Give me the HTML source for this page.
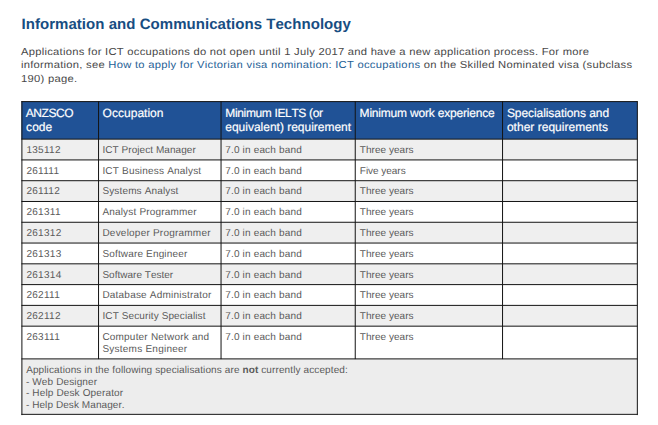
<!DOCTYPE html>
<html><head><meta charset="utf-8"><title>ICT</title>
<style>
html,body{margin:0;padding:0;background:#fff;}
body{width:658px;height:425px;overflow:hidden;position:relative;font-family:"Liberation Sans",sans-serif;}
i,b.r,span.t{position:absolute;left:0;top:0;display:block;}
i{background:#141414;}
span.t{white-space:nowrap;font-kerning:none;text-rendering:geometricPrecision;transform-origin:0 0;line-height:1;}
</style></head><body>

<b class="r" style="transform:translate(21.39px,101.55px);width:616.37px;height:37.55px;background:#205296"></b>
<b class="r" style="transform:translate(21.39px,139.10px);width:616.37px;height:20.78px;background:#efefef"></b>
<b class="r" style="transform:translate(21.39px,180.66px);width:616.37px;height:20.78px;background:#efefef"></b>
<b class="r" style="transform:translate(21.39px,222.22px);width:616.37px;height:20.78px;background:#efefef"></b>
<b class="r" style="transform:translate(21.39px,263.78px);width:616.37px;height:20.78px;background:#efefef"></b>
<b class="r" style="transform:translate(21.39px,305.34px);width:616.37px;height:20.78px;background:#efefef"></b>
<b class="r" style="transform:translate(21.39px,358.85px);width:616.37px;height:55.45px;background:#ededed"></b>
<i style="transform:translate(21.39px,101.09px);width:616.37px;height:0.92px"></i>
<i style="transform:translate(21.39px,138.64px);width:616.37px;height:0.92px"></i>
<i style="transform:translate(21.39px,159.42px);width:616.37px;height:0.92px"></i>
<i style="transform:translate(21.39px,180.20px);width:616.37px;height:0.92px"></i>
<i style="transform:translate(21.39px,200.98px);width:616.37px;height:0.92px"></i>
<i style="transform:translate(21.39px,221.76px);width:616.37px;height:0.92px"></i>
<i style="transform:translate(21.39px,242.54px);width:616.37px;height:0.92px"></i>
<i style="transform:translate(21.39px,263.32px);width:616.37px;height:0.92px"></i>
<i style="transform:translate(21.39px,284.10px);width:616.37px;height:0.92px"></i>
<i style="transform:translate(21.39px,304.88px);width:616.37px;height:0.92px"></i>
<i style="transform:translate(21.39px,325.66px);width:616.37px;height:0.92px"></i>
<i style="transform:translate(21.39px,358.39px);width:616.37px;height:0.92px"></i>
<i style="transform:translate(21.39px,413.84px);width:616.37px;height:0.92px"></i>
<i style="transform:translate(21.39px,101.09px);width:0.92px;height:313.67px"></i>
<i style="transform:translate(98.04px,101.09px);width:0.92px;height:258.22px"></i>
<i style="transform:translate(220.54px,101.09px);width:0.92px;height:258.22px"></i>
<i style="transform:translate(354.74px,101.09px);width:0.92px;height:258.22px"></i>
<i style="transform:translate(502.04px,101.09px);width:0.92px;height:258.22px"></i>
<i style="transform:translate(636.84px,101.09px);width:0.92px;height:313.67px"></i>
<span class="t" style="transform:translate(21.50px,17.00px);font-size:15px;letter-spacing:0.046px;color:#174d82;font-weight:bold;">Information and Communications Technology</span>
<span class="t" style="transform:translate(20.90px,48.00px) scaleX(1.1);font-size:10.2px;letter-spacing:0.240px;color:#484848;font-weight:normal;">Applications for ICT occupations do not open until 1 July 2017 and have a new application process. For more</span>
<span class="t" style="transform:translate(20.90px,61.00px) scaleX(1.1);font-size:10.2px;letter-spacing:0.247px;color:#484848;font-weight:normal;">information, see <span style='color:#256196'>How to apply for Victorian visa nomination: ICT occupations</span> on the Skilled Nominated visa (subclass</span>
<span class="t" style="transform:translate(20.90px,75.00px) scaleX(1.1);font-size:10.2px;letter-spacing:0.270px;color:#484848;font-weight:normal;">190) page.</span>
<span class="t" style="transform:translate(25.75px,107.00px);font-size:12px;letter-spacing:-0.428px;color:#ffffff;font-weight:normal;-webkit-text-stroke:0.18px #fff;">ANZSCO</span>
<span class="t" style="transform:translate(26.10px,121.00px);font-size:12px;letter-spacing:0.042px;color:#ffffff;font-weight:normal;-webkit-text-stroke:0.18px #fff;">code</span>
<span class="t" style="transform:translate(102.60px,107.00px);font-size:12px;letter-spacing:0.020px;color:#ffffff;font-weight:normal;-webkit-text-stroke:0.18px #fff;">Occupation</span>
<span class="t" style="transform:translate(225.30px,107.00px);font-size:12px;letter-spacing:-0.356px;color:#ffffff;font-weight:normal;-webkit-text-stroke:0.18px #fff;">Minimum IELTS (or</span>
<span class="t" style="transform:translate(225.30px,121.00px);font-size:12px;letter-spacing:-0.012px;color:#ffffff;font-weight:normal;-webkit-text-stroke:0.18px #fff;">equivalent) requirement</span>
<span class="t" style="transform:translate(359.60px,107.00px);font-size:12px;letter-spacing:-0.197px;color:#ffffff;font-weight:normal;-webkit-text-stroke:0.18px #fff;">Minimum work experience</span>
<span class="t" style="transform:translate(506.90px,107.00px);font-size:12px;letter-spacing:-0.069px;color:#ffffff;font-weight:normal;-webkit-text-stroke:0.18px #fff;">Specialisations and</span>
<span class="t" style="transform:translate(506.90px,121.00px);font-size:12px;letter-spacing:0.016px;color:#ffffff;font-weight:normal;-webkit-text-stroke:0.18px #fff;">other requirements</span>
<span class="t" style="transform:translate(26.40px,146.00px);font-size:10px;letter-spacing:0.300px;color:#5a5a5a;font-weight:normal;font-kerning:normal;">135112</span>
<span class="t" style="transform:translate(102.40px,146.00px);font-size:10px;letter-spacing:0.065px;color:#5a5a5a;font-weight:normal;">ICT Project Manager</span>
<span class="t" style="transform:translate(225.20px,146.00px);font-size:10px;letter-spacing:0.172px;color:#5a5a5a;font-weight:normal;">7.0 in each band</span>
<span class="t" style="transform:translate(359.80px,146.00px);font-size:10px;letter-spacing:0.040px;color:#5a5a5a;font-weight:normal;">Three years</span>
<span class="t" style="transform:translate(26.40px,167.00px);font-size:10px;letter-spacing:0.300px;color:#5a5a5a;font-weight:normal;font-kerning:normal;">261111</span>
<span class="t" style="transform:translate(102.40px,167.00px);font-size:10px;letter-spacing:0.193px;color:#5a5a5a;font-weight:normal;">ICT Business Analyst</span>
<span class="t" style="transform:translate(225.20px,167.00px);font-size:10px;letter-spacing:0.172px;color:#5a5a5a;font-weight:normal;">7.0 in each band</span>
<span class="t" style="transform:translate(359.80px,167.00px);font-size:10px;letter-spacing:-0.032px;color:#5a5a5a;font-weight:normal;">Five years</span>
<span class="t" style="transform:translate(26.40px,187.00px);font-size:10px;letter-spacing:0.300px;color:#5a5a5a;font-weight:normal;font-kerning:normal;">261112</span>
<span class="t" style="transform:translate(102.40px,187.00px);font-size:10px;letter-spacing:0.145px;color:#5a5a5a;font-weight:normal;">Systems Analyst</span>
<span class="t" style="transform:translate(225.20px,187.00px);font-size:10px;letter-spacing:0.172px;color:#5a5a5a;font-weight:normal;">7.0 in each band</span>
<span class="t" style="transform:translate(359.80px,187.00px);font-size:10px;letter-spacing:0.040px;color:#5a5a5a;font-weight:normal;">Three years</span>
<span class="t" style="transform:translate(26.40px,208.00px);font-size:10px;letter-spacing:0.300px;color:#5a5a5a;font-weight:normal;font-kerning:normal;">261311</span>
<span class="t" style="transform:translate(102.40px,208.00px);font-size:10px;letter-spacing:0.176px;color:#5a5a5a;font-weight:normal;">Analyst Programmer</span>
<span class="t" style="transform:translate(225.20px,208.00px);font-size:10px;letter-spacing:0.172px;color:#5a5a5a;font-weight:normal;">7.0 in each band</span>
<span class="t" style="transform:translate(359.80px,208.00px);font-size:10px;letter-spacing:0.040px;color:#5a5a5a;font-weight:normal;">Three years</span>
<span class="t" style="transform:translate(26.40px,229.00px);font-size:10px;letter-spacing:0.300px;color:#5a5a5a;font-weight:normal;font-kerning:normal;">261312</span>
<span class="t" style="transform:translate(102.40px,229.00px);font-size:10px;letter-spacing:0.221px;color:#5a5a5a;font-weight:normal;">Developer Programmer</span>
<span class="t" style="transform:translate(225.20px,229.00px);font-size:10px;letter-spacing:0.172px;color:#5a5a5a;font-weight:normal;">7.0 in each band</span>
<span class="t" style="transform:translate(359.80px,229.00px);font-size:10px;letter-spacing:0.040px;color:#5a5a5a;font-weight:normal;">Three years</span>
<span class="t" style="transform:translate(26.40px,250.00px);font-size:10px;letter-spacing:0.300px;color:#5a5a5a;font-weight:normal;font-kerning:normal;">261313</span>
<span class="t" style="transform:translate(102.40px,250.00px);font-size:10px;letter-spacing:0.160px;color:#5a5a5a;font-weight:normal;">Software Engineer</span>
<span class="t" style="transform:translate(225.20px,250.00px);font-size:10px;letter-spacing:0.172px;color:#5a5a5a;font-weight:normal;">7.0 in each band</span>
<span class="t" style="transform:translate(359.80px,250.00px);font-size:10px;letter-spacing:0.040px;color:#5a5a5a;font-weight:normal;">Three years</span>
<span class="t" style="transform:translate(26.40px,271.00px);font-size:10px;letter-spacing:0.300px;color:#5a5a5a;font-weight:normal;font-kerning:normal;">261314</span>
<span class="t" style="transform:translate(102.40px,271.00px);font-size:10px;letter-spacing:0.014px;color:#5a5a5a;font-weight:normal;">Software Tester</span>
<span class="t" style="transform:translate(225.20px,271.00px);font-size:10px;letter-spacing:0.172px;color:#5a5a5a;font-weight:normal;">7.0 in each band</span>
<span class="t" style="transform:translate(359.80px,271.00px);font-size:10px;letter-spacing:0.040px;color:#5a5a5a;font-weight:normal;">Three years</span>
<span class="t" style="transform:translate(26.40px,291.00px);font-size:10px;letter-spacing:0.300px;color:#5a5a5a;font-weight:normal;font-kerning:normal;">262111</span>
<span class="t" style="transform:translate(102.40px,291.00px);font-size:10px;letter-spacing:0.209px;color:#5a5a5a;font-weight:normal;">Database Administrator</span>
<span class="t" style="transform:translate(225.20px,291.00px);font-size:10px;letter-spacing:0.172px;color:#5a5a5a;font-weight:normal;">7.0 in each band</span>
<span class="t" style="transform:translate(359.80px,291.00px);font-size:10px;letter-spacing:0.040px;color:#5a5a5a;font-weight:normal;">Three years</span>
<span class="t" style="transform:translate(26.40px,312.00px);font-size:10px;letter-spacing:0.300px;color:#5a5a5a;font-weight:normal;font-kerning:normal;">262112</span>
<span class="t" style="transform:translate(102.40px,312.00px);font-size:10px;letter-spacing:0.113px;color:#5a5a5a;font-weight:normal;">ICT Security Specialist</span>
<span class="t" style="transform:translate(225.20px,312.00px);font-size:10px;letter-spacing:0.172px;color:#5a5a5a;font-weight:normal;">7.0 in each band</span>
<span class="t" style="transform:translate(359.80px,312.00px);font-size:10px;letter-spacing:0.040px;color:#5a5a5a;font-weight:normal;">Three years</span>
<span class="t" style="transform:translate(26.40px,333.00px);font-size:10px;letter-spacing:0.300px;color:#5a5a5a;font-weight:normal;font-kerning:normal;">263111</span>
<span class="t" style="transform:translate(102.40px,333.00px);font-size:10px;letter-spacing:0.199px;color:#5a5a5a;font-weight:normal;">Computer Network and</span>
<span class="t" style="transform:translate(225.20px,333.00px);font-size:10px;letter-spacing:0.172px;color:#5a5a5a;font-weight:normal;">7.0 in each band</span>
<span class="t" style="transform:translate(359.80px,333.00px);font-size:10px;letter-spacing:0.040px;color:#5a5a5a;font-weight:normal;">Three years</span>
<span class="t" style="transform:translate(102.40px,345.00px);font-size:10px;letter-spacing:0.240px;color:#5a5a5a;font-weight:normal;">Systems Engineer</span>
<span class="t" style="transform:translate(26.15px,366.00px);font-size:10px;letter-spacing:0.113px;color:#5a5a5a;font-weight:normal;">Applications in the following specialisations are <b>not</b> currently accepted:</span>
<span class="t" style="transform:translate(25.90px,378.00px);font-size:10px;letter-spacing:0.131px;color:#5a5a5a;font-weight:normal;">- Web Designer</span>
<span class="t" style="transform:translate(25.90px,389.00px);font-size:10px;letter-spacing:0.146px;color:#5a5a5a;font-weight:normal;">- Help Desk Operator</span>
<span class="t" style="transform:translate(25.90px,401.00px);font-size:10px;letter-spacing:0.077px;color:#5a5a5a;font-weight:normal;">- Help Desk Manager.</span>
</body></html>
